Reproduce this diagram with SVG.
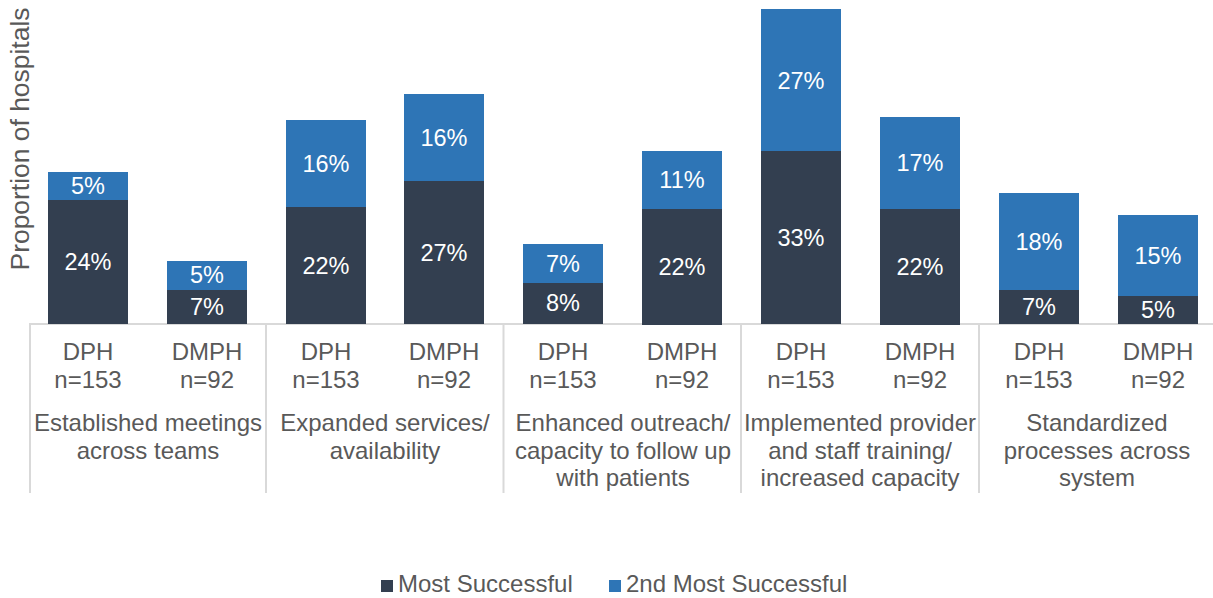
<svg xmlns="http://www.w3.org/2000/svg" width="1213" height="598" viewBox="0 0 1213 598">
<style>
.bg{fill:#ffffff}
.d{fill:#333F50}
.b{fill:#2E75B6}
.v{font-family:"Liberation Sans",Arial,sans-serif;font-size:23.5px;fill:#ffffff;text-anchor:middle}
.c{font-family:"Liberation Sans",Arial,sans-serif;font-size:24px;fill:#595959;text-anchor:middle}
.t{font-family:"Liberation Sans",Arial,sans-serif;font-size:26px;fill:#595959;text-anchor:middle}
.l{font-family:"Liberation Sans",Arial,sans-serif;font-size:24px;fill:#595959}
.ax{stroke:#D9D9D9;stroke-width:2;fill:none}
</style>
<rect class="bg" x="0" y="0" width="1213" height="598"/>
<text class="t" transform="translate(29,139) rotate(-90)" textLength="263" lengthAdjust="spacingAndGlyphs">Proportion of hospitals</text>
<g id="axis">
<line class="ax" x1="29" y1="324" x2="1213" y2="324"/>
<line class="ax" x1="30" y1="323" x2="30" y2="493"/>
<line class="ax" x1="266" y1="323" x2="266" y2="493"/>
<line class="ax" x1="503.5" y1="323" x2="503.5" y2="493"/>
<line class="ax" x1="741" y1="323" x2="741" y2="493"/>
<line class="ax" x1="979" y1="323" x2="979" y2="493"/>
</g>
<g id="bar1"><rect class="d" x="48" y="200" width="80" height="124"/><rect class="b" x="48" y="172" width="80" height="28"/><text class="v" x="88" y="270">24%</text><text class="v" x="88" y="194">5%</text></g>
<g id="bar2"><rect class="d" x="167" y="290" width="80" height="34"/><rect class="b" x="167" y="261" width="80" height="29"/><text class="v" x="207" y="315">7%</text><text class="v" x="207" y="283">5%</text></g>
<g id="bar3"><rect class="d" x="286" y="207" width="80" height="117"/><rect class="b" x="286" y="120" width="80" height="87"/><text class="v" x="326" y="274">22%</text><text class="v" x="326" y="172">16%</text></g>
<g id="bar4"><rect class="d" x="404" y="181" width="80" height="143"/><rect class="b" x="404" y="94" width="80" height="87"/><text class="v" x="444" y="261">27%</text><text class="v" x="444" y="146">16%</text></g>
<g id="bar5"><rect class="d" x="523" y="283" width="80" height="41"/><rect class="b" x="523" y="244" width="80" height="39"/><text class="v" x="563" y="311">8%</text><text class="v" x="563" y="272">7%</text></g>
<g id="bar6"><rect class="d" x="642" y="209" width="80" height="116"/><rect class="b" x="642" y="151" width="80" height="58"/><text class="v" x="682" y="275">22%</text><text class="v" x="682" y="188">11%</text></g>
<g id="bar7"><rect class="d" x="761" y="151" width="80" height="173"/><rect class="b" x="761" y="9" width="80" height="142"/><text class="v" x="801" y="246">33%</text><text class="v" x="801" y="89">27%</text></g>
<g id="bar8"><rect class="d" x="880" y="209" width="80" height="116"/><rect class="b" x="880" y="117" width="80" height="92"/><text class="v" x="920" y="275">22%</text><text class="v" x="920" y="171">17%</text></g>
<g id="bar9"><rect class="d" x="999" y="290" width="80" height="34"/><rect class="b" x="999" y="193" width="80" height="97"/><text class="v" x="1039" y="315">7%</text><text class="v" x="1039" y="250">18%</text></g>
<g id="bar10"><rect class="d" x="1118" y="296" width="80" height="28"/><rect class="b" x="1118" y="215" width="80" height="81"/><text class="v" x="1158" y="318">5%</text><text class="v" x="1158" y="264">15%</text></g>
<g id="xlabels">
<text class="c" x="88" y="360">DPH</text><text class="c" x="88" y="388">n=153</text>
<text class="c" x="207" y="360">DMPH</text><text class="c" x="207" y="388">n=92</text>
<text class="c" x="326" y="360">DPH</text><text class="c" x="326" y="388">n=153</text>
<text class="c" x="444" y="360">DMPH</text><text class="c" x="444" y="388">n=92</text>
<text class="c" x="563" y="360">DPH</text><text class="c" x="563" y="388">n=153</text>
<text class="c" x="682" y="360">DMPH</text><text class="c" x="682" y="388">n=92</text>
<text class="c" x="801" y="360">DPH</text><text class="c" x="801" y="388">n=153</text>
<text class="c" x="920" y="360">DMPH</text><text class="c" x="920" y="388">n=92</text>
<text class="c" x="1039" y="360">DPH</text><text class="c" x="1039" y="388">n=153</text>
<text class="c" x="1158" y="360">DMPH</text><text class="c" x="1158" y="388">n=92</text>
</g>
<g id="categories">
<text class="c" x="148" y="431">Established meetings</text><text class="c" x="148" y="458.5">across teams</text>
<text class="c" x="385" y="431">Expanded services/</text><text class="c" x="385" y="458.5">availability</text>
<text class="c" x="623" y="431">Enhanced outreach/</text><text class="c" x="623" y="458.5">capacity to follow up</text><text class="c" x="623" y="486">with patients</text>
<text class="c" x="860" y="431">Implemented provider</text><text class="c" x="860" y="458.5">and staff training/</text><text class="c" x="860" y="486">increased capacity</text>
<text class="c" x="1097" y="431">Standardized</text><text class="c" x="1097" y="458.5">processes across</text><text class="c" x="1097" y="486">system</text>
</g>
<g id="legend">
<rect class="d" x="381" y="580" width="12" height="12"/><text class="l" x="398" y="592">Most Successful</text>
<rect class="b" x="609" y="580" width="12" height="12"/><text class="l" x="626" y="592">2nd Most Successful</text>
</g>
</svg>
